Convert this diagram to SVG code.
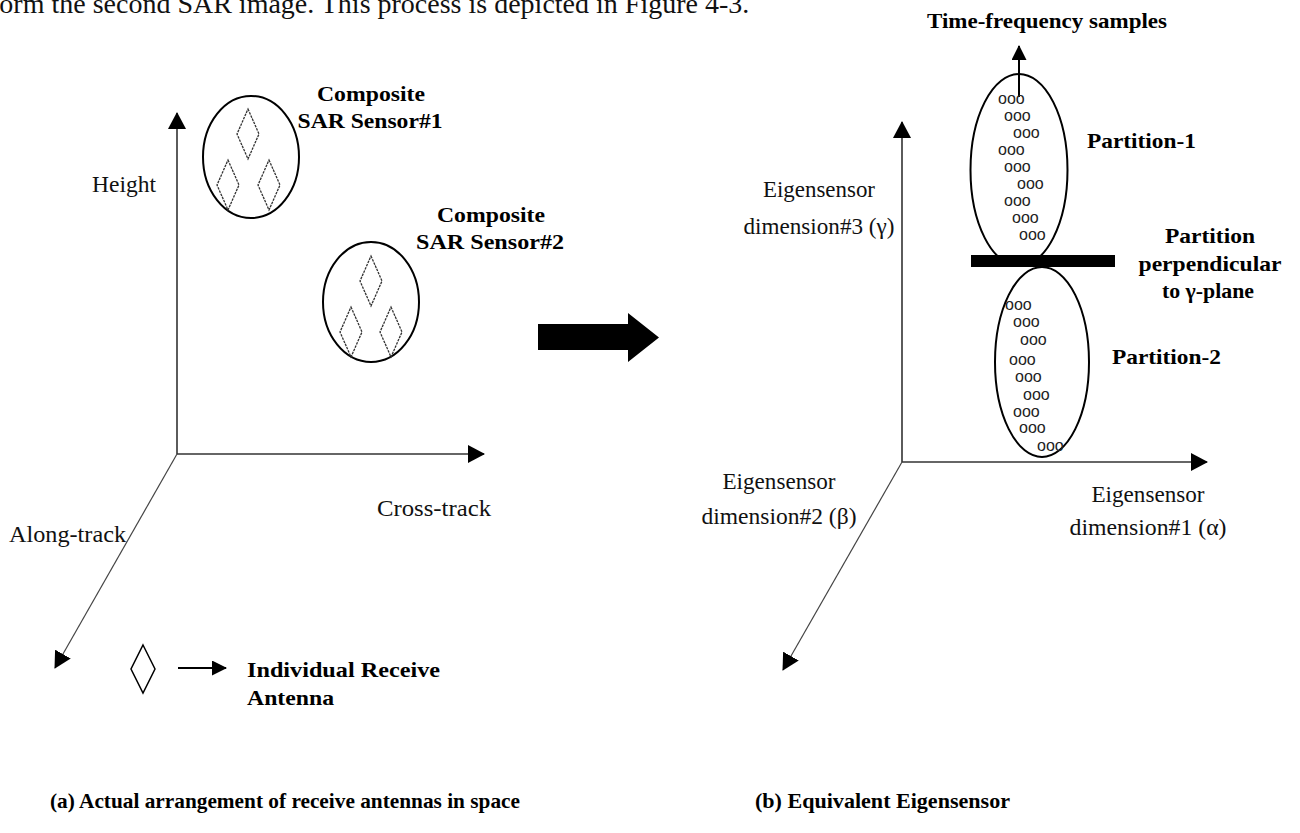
<svg xmlns="http://www.w3.org/2000/svg" width="1300" height="833" viewBox="0 0 1300 833">
<style>
.reg{font-family:"Liberation Serif","Times New Roman",serif;font-size:24px;fill:#111}
.bold{font-family:"Liberation Serif","Times New Roman",serif;font-weight:bold;font-size:21px;fill:#000}
.axis{stroke:#333;stroke-width:1.6;fill:none}
.diag{stroke:#444;stroke-width:1.2;fill:none}
.ell{stroke:#000;stroke-width:2;fill:none}
.ant{stroke:#333;stroke-width:1.3;fill:none;stroke-dasharray:2.5 1}
.smp{font-family:"Liberation Sans",Arial,sans-serif;font-size:16px;fill:#222}
</style>
<defs>
<marker id="ah" markerUnits="userSpaceOnUse" markerWidth="17" markerHeight="18" viewBox="0 0 17 18" refX="16" refY="9" orient="auto"><path d="M0,0 L17,9 L0,18 z" fill="#000"/></marker>
<marker id="ahs" markerUnits="userSpaceOnUse" markerWidth="15" markerHeight="15" viewBox="0 0 15 15" refX="14" refY="7.5" orient="auto"><path d="M0,0 L15,7.5 L0,15 z" fill="#000"/></marker>
<path id="dia" d="M0,-25 L11,0 L0,25 L-11,0 Z"/>
</defs>
<rect width="1300" height="833" fill="#fff"/>
<text class="reg" x="-10" y="13" style="font-size:28px">form the second SAR image. This process is depicted in Figure 4-3.</text>

<g id="connectors">
<line class="axis" x1="177" y1="454" x2="177" y2="113" marker-end="url(#ah)"/>
<line class="axis" x1="177" y1="454" x2="484" y2="454" marker-end="url(#ah)"/>
<line class="diag" x1="177" y1="454" x2="55" y2="668" marker-end="url(#ah)"/>
<line class="axis" x1="902" y1="462" x2="902" y2="122" marker-end="url(#ah)"/>
<line class="axis" x1="902" y1="462" x2="1207" y2="462" marker-end="url(#ah)"/>
<line class="diag" x1="902" y1="462" x2="783" y2="670" marker-end="url(#ah)"/>
<line stroke="#000" stroke-width="2" x1="178" y1="668" x2="226" y2="668" marker-end="url(#ahs)"/>
<line stroke="#000" stroke-width="2" x1="1019" y1="97" x2="1019" y2="46" marker-end="url(#ahs)"/>
<polygon id="big-arrow" points="538,324 628,324 628,313 659,337.5 628,362 628,350 538,350" fill="#000"/>
</g>

<g id="axis-labels-a">
<text class="reg" x="92" y="192" textLength="64" lengthAdjust="spacingAndGlyphs">Height</text>
<text class="reg" x="377" y="516" textLength="114" lengthAdjust="spacingAndGlyphs">Cross-track</text>
<text class="reg" x="9" y="542" textLength="117" lengthAdjust="spacingAndGlyphs">Along-track</text>
</g>

<g id="sensor1">
<ellipse class="ell" cx="251" cy="157" rx="48" ry="61"/>
<use href="#dia" class="ant" x="248" y="134"/>
<use href="#dia" class="ant" x="228" y="185"/>
<use href="#dia" class="ant" x="269" y="185"/>
<text class="bold" x="371" y="101" text-anchor="middle" textLength="108" lengthAdjust="spacingAndGlyphs">Composite</text>
<text class="bold" x="370" y="128" text-anchor="middle" textLength="145" lengthAdjust="spacingAndGlyphs">SAR Sensor#1</text>
</g>

<g id="sensor2">
<ellipse class="ell" cx="371" cy="302" rx="48" ry="60"/>
<use href="#dia" class="ant" x="371" y="281"/>
<use href="#dia" class="ant" x="351" y="332"/>
<use href="#dia" class="ant" x="391" y="332"/>
<text class="bold" x="491" y="222" text-anchor="middle" textLength="108" lengthAdjust="spacingAndGlyphs">Composite</text>
<text class="bold" x="490" y="249" text-anchor="middle" textLength="148" lengthAdjust="spacingAndGlyphs">SAR Sensor#2</text>
</g>

<g id="legend">
<path d="M143,645 L155,669 L143,693 L131,669 Z" fill="none" stroke="#000" stroke-width="1.5"/>
<text class="bold" x="247" y="677" textLength="193" lengthAdjust="spacingAndGlyphs">Individual Receive</text>
<text class="bold" x="247" y="705" textLength="87" lengthAdjust="spacingAndGlyphs">Antenna</text>
</g>

<g id="axis-labels-b">
<text class="reg" x="819" y="197" text-anchor="middle" textLength="112" lengthAdjust="spacingAndGlyphs">Eigensensor</text>
<text class="reg" x="819" y="234" text-anchor="middle" textLength="151" lengthAdjust="spacingAndGlyphs">dimension#3 (γ)</text>
<text class="reg" x="779" y="489" text-anchor="middle" textLength="113" lengthAdjust="spacingAndGlyphs">Eigensensor</text>
<text class="reg" x="779" y="524" text-anchor="middle" textLength="155" lengthAdjust="spacingAndGlyphs">dimension#2 (β)</text>
<text class="reg" x="1148" y="502" text-anchor="middle" textLength="113" lengthAdjust="spacingAndGlyphs">Eigensensor</text>
<text class="reg" x="1148" y="535" text-anchor="middle" textLength="157" lengthAdjust="spacingAndGlyphs">dimension#1 (α)</text>
</g>

<g id="partition1">
<ellipse class="ell" cx="1019" cy="170" rx="48.5" ry="96"/>
<g class="smp">
<text x="998" y="104">ooo</text>
<text x="1004" y="121">ooo</text>
<text x="1013" y="138">ooo</text>
<text x="998" y="155">ooo</text>
<text x="1004" y="172">ooo</text>
<text x="1017" y="189">ooo</text>
<text x="1004" y="206">ooo</text>
<text x="1012" y="223">ooo</text>
<text x="1019" y="240">ooo</text>
</g>
<text class="bold" x="1087" y="148" textLength="109" lengthAdjust="spacingAndGlyphs">Partition-1</text>
<text class="bold" x="1047" y="28" text-anchor="middle" textLength="240" lengthAdjust="spacingAndGlyphs">Time-frequency samples</text>
</g>

<g id="partition-bar">
<rect x="971" y="255" width="144" height="12" fill="#000"/>
<text class="bold" x="1210" y="243" text-anchor="middle" textLength="90" lengthAdjust="spacingAndGlyphs">Partition</text>
<text class="bold" x="1210" y="271" text-anchor="middle" textLength="143" lengthAdjust="spacingAndGlyphs">perpendicular</text>
<text class="bold" x="1208" y="298" text-anchor="middle" textLength="92" lengthAdjust="spacingAndGlyphs">to γ-plane</text>
</g>

<g id="partition2">
<ellipse class="ell" cx="1042" cy="362" rx="47" ry="95"/>
<g class="smp">
<text x="1005" y="310">ooo</text>
<text x="1013" y="327">ooo</text>
<text x="1020" y="345">ooo</text>
<text x="1009" y="365">ooo</text>
<text x="1015" y="382">ooo</text>
<text x="1023" y="400">ooo</text>
<text x="1013" y="417">ooo</text>
<text x="1019" y="433">ooo</text>
<text x="1037" y="451">ooo</text>
</g>
<text class="bold" x="1112" y="364" textLength="109" lengthAdjust="spacingAndGlyphs">Partition-2</text>
</g>

<g id="captions">
<text class="bold" x="50" y="808" textLength="470" lengthAdjust="spacingAndGlyphs">(a) Actual arrangement of receive antennas in space</text>
<text class="bold" x="755" y="808" textLength="255" lengthAdjust="spacingAndGlyphs">(b) Equivalent Eigensensor</text>
</g>
</svg>
